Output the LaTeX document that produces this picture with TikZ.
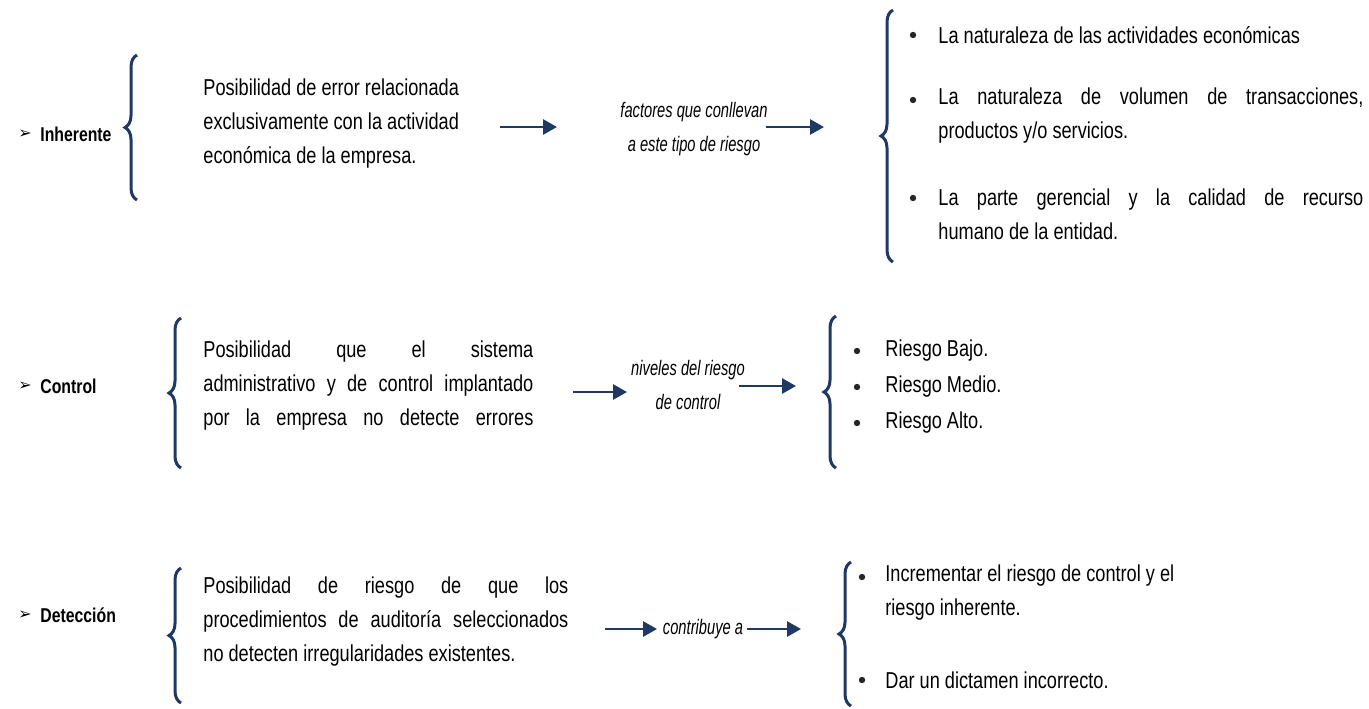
\documentclass[tikz,border=0pt]{standalone}
\usepackage{fontspec}
\setmainfont{Liberation Sans}[FakeStretch=0.79]
\newfontfamily\notafont{Liberation Sans}[FakeStretch=0.70]
\newfontfamily\dingfont{DejaVu Sans}
\usetikzlibrary{positioning,arrows.meta,decorations.pathreplacing}
\definecolor{navy}{HTML}{1F3864}

\tikzset{
  tipo/.style={anchor=west, inner sep=0pt, font=\bfseries},
  flechita/.style={anchor=center, inner sep=0pt, font=\dingfont\fontsize{8}{9}\selectfont},
  desc/.style={anchor=west, inner sep=0pt, align=left},
  nota/.style={inner sep=0pt, align=center, font=\notafont\itshape\fontsize{10.5}{17}\selectfont},
  punto/.style={circle, fill=black!85, inner sep=0pt, minimum size=3.2pt},
  llave/.style={decorate, decoration={brace, mirror, amplitude=6pt}, draw=navy, line width=1.5pt},
  flecha/.style={draw=navy, line width=1.4pt, -{Triangle[length=7pt,width=7.5pt]}}
}

\begin{document}
\begin{tikzpicture}[x=0.5pt, y=-0.5pt, font=\fontsize{11.5}{17}\selectfont]
  \useasboundingbox (0,0) rectangle (1369,708);

  % Inherente
  \node[flechita] (m1) at (25,134) {➢};
  \node[tipo] (inh) at (40,134) {Inherente};
  \draw[llave] (137,55) -- (137,200);
  \node[desc] (d1) at (203,124) {Posibilidad de error relacionada\\exclusivamente con la actividad\\económica de la empresa.};
  \coordinate (a1s) at (500,127);
  \coordinate (a1e) at (557,127);
  \draw[flecha] (a1s) -- (a1e);
  \node[nota] (n1) at (694,129) {factores que conllevan\\a este tipo de riesgo};
  \coordinate (a2s) at (766,127);
  \coordinate (a2e) at (824,127);
  \draw[flecha] (a2s) -- (a2e);
  \draw[llave] (893,10) -- (893,262);
  \node[punto] (p11) at (913,35) {};
  \node[desc] (t11) at (938,35) {La naturaleza de las actividades económicas};
  \node[punto] (p12) at (913,100) {};
  \node[desc] (t12) at (938,116) {\makebox[212.5pt][s]{La naturaleza de volumen de transacciones,}\\productos y/o servicios.};
  \node[punto] (p13) at (913,198) {};
  \node[desc] (t13) at (938,214) {\makebox[212.5pt][s]{La parte gerencial y la calidad de recurso}\\humano de la entidad.};

  % Control
  \node[flechita] (m2) at (25,386) {➢};
  \node[tipo] (ctl) at (40,386) {Control};
  \draw[llave] (181,318) -- (181,468);
  \node[desc] (d2) at (203,386) {\makebox[165pt][s]{Posibilidad que el sistema}\\\makebox[165pt][s]{administrativo y de control implantado}\\\makebox[165pt][s]{por la empresa no detecte errores}};
  \coordinate (a3s) at (573,392);
  \coordinate (a3e) at (627,392);
  \draw[flecha] (a3s) -- (a3e);
  \node[nota] (n2) at (688,385) {niveles del riesgo\\de control};
  \coordinate (a4s) at (739,386);
  \coordinate (a4e) at (796,386);
  \draw[flecha] (a4s) -- (a4e);
  \draw[llave] (836,316) -- (836,468);
  \node[punto] (p21) at (857,351) {};
  \node[desc] (t21) at (885,351) {Riesgo Bajo.};
  \node[punto] (p22) at (857,387) {};
  \node[desc] (t22) at (885,387) {Riesgo Medio.};
  \node[punto] (p23) at (857,423) {};
  \node[desc] (t23) at (885,423) {Riesgo Alto.};

  % Deteccion
  \node[flechita] (m3) at (25,615) {➢};
  \node[tipo] (det) at (40,615) {Detección};
  \draw[llave] (181,568) -- (181,703);
  \node[desc] (d3) at (203,622) {\makebox[182.5pt][s]{Posibilidad de riesgo de que los}\\\makebox[182.5pt][s]{procedimientos de auditoría seleccionados}\\no detecten irregularidades existentes.};
  \coordinate (a5s) at (605,629);
  \coordinate (a5e) at (657,629);
  \draw[flecha] (a5s) -- (a5e);
  \node[nota] (n3) at (703,629) {contribuye a};
  \coordinate (a6s) at (747,629);
  \coordinate (a6e) at (801,629);
  \draw[flecha] (a6s) -- (a6e);
  \draw[llave] (851,562) -- (851,706);
  \node[punto] (p31) at (862,577) {};
  \node[desc] (t31) at (885,593) {Incrementar el riesgo de control y el\\riesgo inherente.};
  \node[punto] (p32) at (862,680) {};
  \node[desc] (t32) at (885,680) {Dar un dictamen incorrecto.};
\end{tikzpicture}
\end{document}
